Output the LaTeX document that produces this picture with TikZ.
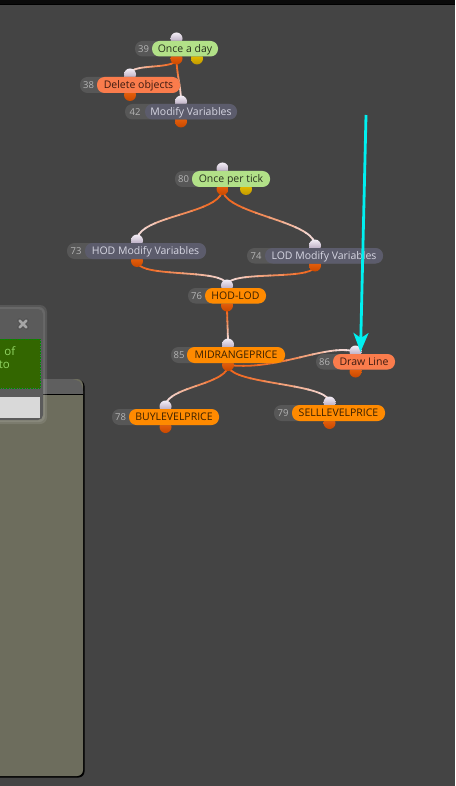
\documentclass[tikz,border=0pt]{standalone}
\usepackage{fontspec}
\setmainfont{Open Sans}
\usetikzlibrary{arrows.meta}

\definecolor{canvas}{HTML}{444444}
\definecolor{numgray}{HTML}{575757}
\definecolor{numtext}{HTML}{B4B4B4}
\definecolor{greenpill}{HTML}{B2E188}
\definecolor{greentext}{HTML}{28321E}
\definecolor{salmonpill}{HTML}{FA7C4C}
\definecolor{salmontext}{HTML}{3C1A10}
\definecolor{orangepill}{HTML}{FF8A00}
\definecolor{orangetext}{HTML}{3A2000}
\definecolor{slatepill}{HTML}{5C5C6C}
\definecolor{slatetext}{HTML}{D6D6E2}
\definecolor{portlite}{HTML}{F4EEF6}
\definecolor{portdark}{HTML}{A898B2}
\definecolor{outlite}{HTML}{F06810}
\definecolor{outdark}{HTML}{C84800}
\definecolor{yellite}{HTML}{F0C800}
\definecolor{yeldark}{HTML}{C09800}
\definecolor{wirepale}{HTML}{F4E0E0}
\definecolor{wireorg}{HTML}{F06820}
\definecolor{cyanline}{HTML}{00F0F0}
\definecolor{panelolive}{HTML}{6D6D5D}
\definecolor{panelgray}{HTML}{5B5B5B}
\definecolor{dlggreen}{HTML}{336600}
\definecolor{dlgtext}{HTML}{A8F07C}

\pgfdeclarelayer{back}
\pgfdeclarelayer{wires}
\pgfsetlayers{back,wires,main}

% link from output port #1 to input port #2, orange fading to pale
% #3 and #4 are the control offsets {dx}{dy}
\newcommand{\linkwire}[4]{%
  \foreach \ta/\tb/\mix in {0/0.11/100,0.1/0.21/100,0.2/0.31/95,0.3/0.41/85,
      0.4/0.51/70,0.5/0.61/52,0.6/0.71/35,0.7/0.81/20,0.8/0.91/8,0.9/1/0}{%
    \begin{pgfscope}
      \pgfsetlinewidth{1.8pt}
      \pgfsetstrokecolor{wireorg!\mix!wirepale}
      \pgfpathcurvebetweentime{\ta}{\tb}
        {\pgfpointanchor{#1}{center}}
        {\pgfpointadd{\pgfpointanchor{#1}{center}}{\pgfpointxy#3}}
        {\pgfpointadd{\pgfpointanchor{#2}{center}}{\pgfpointxy#4}}
        {\pgfpointanchor{#2}{center}}
      \pgfusepath{stroke}
    \end{pgfscope}}}

\tikzset{
  pill/.style={rounded corners=7.5pt},
  numtxt/.style={text=numtext, font=\fontsize{9.5}{11}\selectfont, inner sep=0pt, anchor=base},
  lbltxt/.style={font=\fontsize{10.5}{12}\selectfont, inner sep=0pt, anchor=base},
  inport/.style={circle, minimum size=12pt, inner sep=0pt, top color=portlite, bottom color=portdark},
  outport/.style={circle, minimum size=12pt, inner sep=0pt, top color=outlite, bottom color=outdark},
  flowport/.style={circle, minimum size=12pt, inner sep=0pt, top color=yellite, bottom color=yeldark},
}

\begin{document}
\begin{tikzpicture}[x=1pt,y=-1pt]
\useasboundingbox (0,0) rectangle (455,786);
\begin{pgfonlayer}{back}
\fill[canvas] (0,0) rectangle (455,786);
\fill[black!85!canvas] (0,0) rectangle (455,4);
\draw[black,line width=1.2pt] (0,4.5) -- (455,4.5);
\end{pgfonlayer}

% ports first, pills on top of them
\node[inport] (i39) at (176.5,38.5) {};
\node[outport] (o39) at (176.5,58.5) {};
\node[flowport] (f39) at (197,58.5) {};
\fill[numgray,pill] (135,41) rectangle (218,56.5);
\fill[greenpill,pill] (152,41) rectangle (218,56.5);
\node[numtxt] (n39) at (143.5,52.5) {39};
\node[lbltxt,text=greentext] (once-day) at (185,52.5) {Once a day};

\node[inport] (i38) at (130,74.5) {};
\node[outport] (o38) at (130,95) {};
\fill[numgray,pill] (80,77) rectangle (180,93);
\fill[salmonpill,pill] (97,77) rectangle (180,93);
\node[numtxt] (n38) at (88.5,88.8) {38};
\node[lbltxt,text=salmontext] (del-obj) at (138.5,88.8) {Delete objects};

\node[inport] (i42) at (181,101.5) {};
\node[outport] (o42) at (181,121.5) {};
\fill[numgray,pill] (125,104) rectangle (237,119.5);
\fill[slatepill,pill] (145,104) rectangle (237,119.5);
\node[numtxt] (n42) at (135,115.5) {42};
\node[lbltxt,text=slatetext] (mod-var) at (191,115.5) {Modify Variables};

\node[inport] (i80) at (222.5,168.5) {};
\node[outport] (o80) at (222.5,189) {};
\node[flowport] (f80) at (246,189) {};
\fill[numgray,pill] (175,171) rectangle (270,187);
\fill[greenpill,pill] (192,171) rectangle (270,187);
\node[numtxt] (n80) at (183.5,182.8) {80};
\node[lbltxt,text=greentext] (once-tick) at (231,182.8) {Once per tick};

\node[inport] (i73) at (137,240.5) {};
\node[outport] (o73) at (137,261) {};
\fill[numgray,pill] (67,243) rectangle (206,259);
\fill[slatepill,pill] (85,243) rectangle (206,259);
\node[numtxt] (n73) at (76,254.8) {73};
\node[lbltxt,text=slatetext] (hod-var) at (145.5,254.8) {HOD Modify Variables};

\node[inport] (i74) at (315,245.5) {};
\node[outport] (o74) at (315,265.5) {};
\fill[numgray,pill] (247,248) rectangle (383,263.5);
\fill[slatepill,pill] (265,248) rectangle (383,263.5);
\node[numtxt] (n74) at (256,259.5) {74};
\node[lbltxt,text=slatetext] (lod-var) at (324,259.5) {LOD Modify Variables};

\node[inport] (i76) at (227,285.5) {};
\node[outport] (o76) at (227,305.5) {};
\fill[numgray,pill] (188,288) rectangle (266,303.5);
\fill[orangepill,pill] (205,288) rectangle (266,303.5);
\node[numtxt] (n76) at (196.5,299.5) {76};
\node[lbltxt,text=orangetext] (hod-lod) at (235.5,299.5) {HOD-LOD};

\node[inport] (i85) at (228,344.5) {};
\node[outport] (o85) at (228,365) {};
\fill[numgray,pill] (171,347) rectangle (285,363);
\fill[orangepill,pill] (187,347) rectangle (285,363);
\node[numtxt] (n85) at (179,358.8) {85};
\node[lbltxt,text=orangetext] (midrange) at (236,358.8) {MIDRANGEPRICE};

\node[inport] (i86) at (355.5,351.5) {};
\node[outport] (o86) at (355.5,371.5) {};
\fill[numgray,pill] (316,354) rectangle (395,369.5);
\fill[salmonpill,pill] (333,354) rectangle (395,369.5);
\node[numtxt] (n86) at (324.5,365.5) {86};
\node[lbltxt,text=salmontext] (draw-line) at (364,365.5) {Draw Line};

\node[inport] (i78) at (165.5,406.5) {};
\node[outport] (o78) at (165.5,427) {};
\fill[numgray,pill] (112,409) rectangle (219,425);
\fill[orangepill,pill] (129,409) rectangle (219,425);
\node[numtxt] (n78) at (120.5,420.8) {78};
\node[lbltxt,text=orangetext] (buy-lvl) at (174,420.8) {BUYLEVELPRICE};

\node[inport] (i79) at (329.5,402.5) {};
\node[outport] (o79) at (329.5,423) {};
\fill[numgray,pill] (274,405) rectangle (385,421);
\fill[orangepill,pill] (292,405) rectangle (385,421);
\node[numtxt] (n79) at (283,416.8) {79};
\node[lbltxt,text=orangetext] (sell-lvl) at (338.5,416.8) {SELLLEVELPRICE};

% links
\begin{pgfonlayer}{wires}
\linkwire{o39}{i38}{{0}{12}}{{0}{-12}}
\linkwire{o39}{i42}{{0}{15}}{{0}{-15}}
\linkwire{o80}{i73}{{0}{25}}{{0}{-25}}
\linkwire{o80}{i74}{{0}{25}}{{0}{-25}}
\linkwire{o73}{i76}{{0}{18}}{{0}{-18}}
\linkwire{o74}{i76}{{0}{16}}{{0}{-16}}
\linkwire{o76}{i85}{{0}{12}}{{0}{-12}}
\linkwire{o85}{i86}{{50}{6}}{{-30}{-8}}
\linkwire{o85}{i78}{{0}{20}}{{0}{-20}}
\linkwire{o85}{i79}{{0}{20}}{{0}{-20}}
\end{pgfonlayer}

% cyan pointer
\coordinate (cy-top) at (366,115);
\coordinate (cy-tip) at (360.5,352);
\draw[cyanline,line width=2.8pt,-{Stealth[length=19pt,width=15pt,inset=5pt]}] (cy-top) -- (cy-tip);

% panels on the left
\fill[black] (-10,380) [rounded corners=6pt] rectangle (84.5,777.5);
\fill[panelolive] (-10,379) [rounded corners=6pt] rectangle (83,776);
\fill[numgray!95!white] (-10,379) [rounded corners=6pt] -- (77,379) -- (83,385) [sharp corners] -- (83,394) -- (-10,394) -- cycle;
\draw[black,line width=1pt] (-10,394) -- (83,394);
\fill[white,opacity=0.10,rounded corners=7pt] (-10,305) rectangle (47,424);
\fill[white,opacity=0.10,rounded corners=6pt] (-10,307) rectangle (45,422);
\fill[panelgray,rounded corners=5pt] (-10,309) rectangle (43,420);
\draw[black!70,line width=4.2pt,line cap=round] (19.5,320.5) -- (26.5,327.5) (19.5,327.5) -- (26.5,320.5);
\draw[gray!70!white,line width=2.6pt,line cap=round] (19.5,320.5) -- (26.5,327.5) (19.5,327.5) -- (26.5,320.5);
\fill[dlggreen] (-5,339) rectangle (40,388);
\draw[green!55!black,densely dotted,line width=0.6pt] (-5,339) rectangle (40,388);
\node[anchor=base east,inner sep=0pt,text=dlggreen!20!dlgtext,font=\fontsize{11.5}{13}\selectfont] (dlg-of) at (15.5,355.5) {of};
\node[anchor=base east,inner sep=0pt,text=dlggreen!20!dlgtext,font=\fontsize{11.5}{13}\selectfont] (dlg-to) at (10,368) {to};
\fill[black!15] (-5,397) rectangle (40,418);
\end{tikzpicture}
\end{document}
